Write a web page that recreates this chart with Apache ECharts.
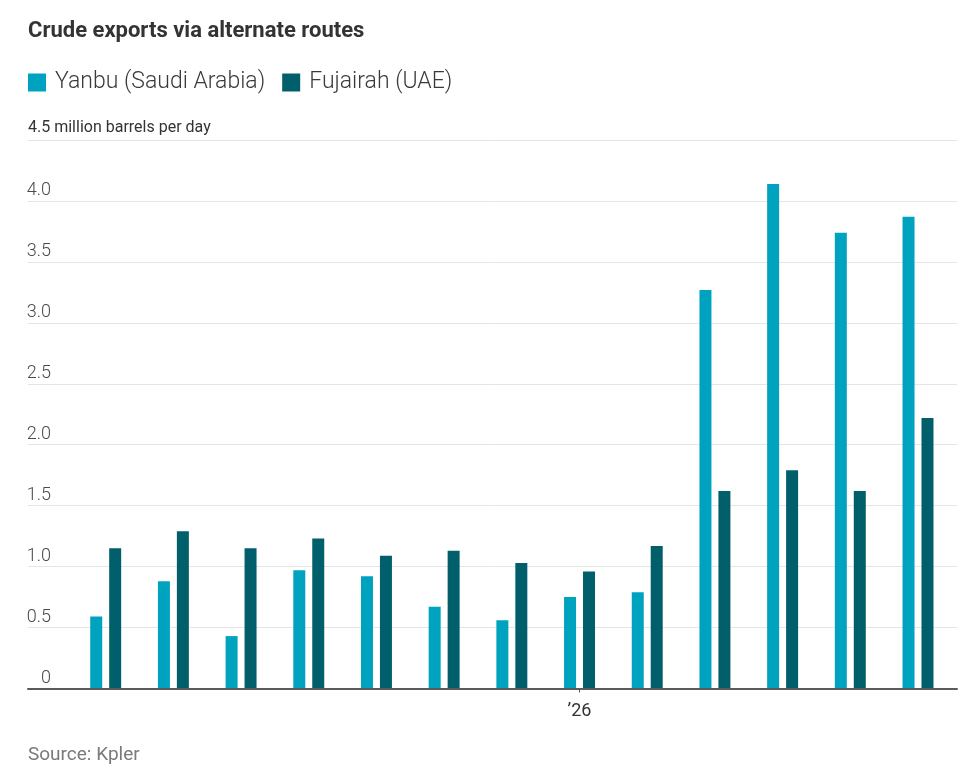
<!DOCTYPE html>
<html>
<head>
<meta charset="utf-8">
<script src="https://cdn.jsdelivr.net/npm/echarts@6/dist/echarts.min.js"></script>
<style>
  html, body { margin: 0; padding: 0; background: #fff; }
  #chart { width: 973px; height: 772px; }
</style>
</head>
<body>
<div id="chart"></div>
<script>
// monthly buckets, '26 marks January
const months = ['Jun 2025', 'Jul 2025', 'Aug 2025', 'Sep 2025', 'Oct 2025', 'Nov 2025', 'Dec 2025',
    'Jan 2026', 'Feb 2026', 'Mar 2026', 'Apr 2026', 'May 2026', 'Jun 2026'];
const yanbu = [0.59, 0.88, 0.43, 0.97, 0.92, 0.67, 0.56, 0.75, 0.79, 3.27, 4.14, 3.74, 3.87];
const fujairah = [1.15, 1.29, 1.15, 1.23, 1.09, 1.13, 1.03, 0.96, 1.17, 1.62, 1.79, 1.62, 2.22];
const yTicks = [0, 0.5, 1, 1.5, 2, 2.5, 3, 3.5, 4, 4.5];
const yearLabelAt = 'Jan 2026';

const font = 'Roboto, "Noto Sans", sans-serif';
const chart = echarts.init(document.getElementById('chart'), null, { renderer: 'canvas' });

const option = {
    animation: false,
    backgroundColor: '#fff',
    title: [
        {
            text: 'Crude exports via alternate routes',
            left: 28, top: 20, padding: 0,
            textStyle: { fontFamily: font, fontSize: 22, fontWeight: 'bold', color: '#333' }
        },
        {
            text: yTicks[yTicks.length - 1] + ' million barrels per day',
            left: 28, top: 120, padding: 0,
            textStyle: { fontFamily: font, fontSize: 16, fontWeight: 'normal', color: '#333' }
        },
        {
            text: 'Source: Kpler',
            left: 28, top: 746, padding: 0,
            textStyle: { fontFamily: font, fontSize: 19, fontWeight: 'normal', color: '#7a7a7a' }
        }
    ],
    legend: {
        left: 28, top: 71, padding: 0,
        icon: 'rect', itemWidth: 18, itemHeight: 18, itemGap: 17,
        textStyle: { fontFamily: font, fontSize: 23, fontWeight: 300, color: '#3a3a3a', padding: [0, 0, 0, 4] },
        data: ['Yanbu (Saudi Arabia)', 'Fujairah (UAE)']
    },
    grid: [
        // full-width grid carrying gridlines, tick labels and baseline
        { left: 28, right: 16, top: 140, bottom: 83.5 },
        // bar grid, narrower so the groups sit where the reference has them
        { left: 71.85, right: 21.15, top: 140, bottom: 83.5 }
    ],
    xAxis: [
        {
            gridIndex: 0, type: 'value', min: 0, max: 1, z: 5,
            axisLine: { show: true, lineStyle: { color: '#5b5b5b', width: 2 } },
            axisTick: { show: false }, axisLabel: { show: false }, splitLine: { show: false }
        },
        {
            gridIndex: 1, type: 'category', data: months,
            axisLine: { show: false },
            axisTick: {
                show: true, alignWithLabel: true, length: 4,
                interval: (i) => months[i] === yearLabelAt,
                lineStyle: { color: '#555' }
            },
            axisLabel: {
                interval: (i) => months[i] === yearLabelAt,
                formatter: (v) => (v === yearLabelAt ? '\u201926' : ''),
                margin: 14, fontFamily: font, fontSize: 18, color: '#333'
            },
            splitLine: { show: false }
        }
    ],
    yAxis: [
        {
            gridIndex: 0, type: 'value', min: 0, max: 4.5, interval: 0.5,
            axisLine: { show: false }, axisTick: { show: false },
            axisLabel: {
                inside: true, margin: 23, align: 'right', verticalAlign: 'bottom',
                padding: [0, 0, 1, 0],
                fontFamily: font, fontSize: 18, fontWeight: 300, color: '#4a4a4a',
                formatter: (v) => (v === 0 ? '0' : v === 4.5 ? '' : v.toFixed(1))
            },
            splitLine: { lineStyle: { color: '#e5e5e5', width: 1 } }
        },
        {
            gridIndex: 1, type: 'value', min: 0, max: 4.5, show: false
        }
    ],
    series: [
        {
            name: 'Yanbu (Saudi Arabia)', type: 'bar', xAxisIndex: 1, yAxisIndex: 1,
            data: yanbu, barWidth: 12, barGap: '58%',
            itemStyle: { color: '#00a3bf' }
        },
        {
            name: 'Fujairah (UAE)', type: 'bar', xAxisIndex: 1, yAxisIndex: 1,
            data: fujairah, barWidth: 12, barGap: '58%',
            itemStyle: { color: '#005f6a' }
        }
    ]
};

chart.setOption(option);
</script>
</body>
</html>
